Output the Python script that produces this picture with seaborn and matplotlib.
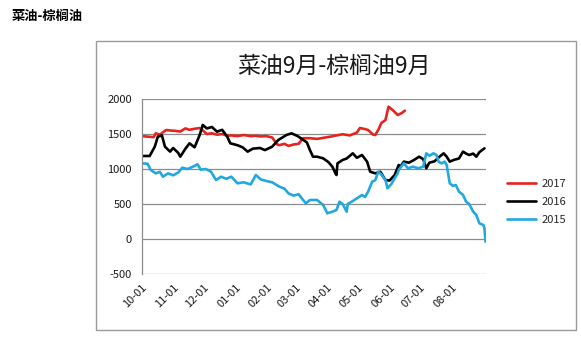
import matplotlib
matplotlib.use("Agg")
import matplotlib.pyplot as plt
import matplotlib.dates as mdates
from matplotlib.patches import Rectangle
from matplotlib.lines import Line2D
import pandas as pd
import seaborn as sns

sns.set_style("white")
plt.rcParams['font.family'] = ['Noto Sans CJK SC', 'DejaVu Sans']
plt.rcParams['axes.unicode_minus'] = False

# ---- data (seasonal axis Oct -> Sep) ----
dates_2017 = ["2016-10-01", "2016-10-09", "2016-10-13", "2016-10-15", "2016-10-19", "2016-10-25",
              "2016-10-29", "2016-11-03", "2016-11-08", "2016-11-13", "2016-11-17", "2016-11-22",
              "2016-11-27", "2016-12-01", "2016-12-04", "2016-12-09", "2016-12-14", "2016-12-19",
              "2016-12-24", "2016-12-28", "2017-01-03", "2017-01-09", "2017-01-16", "2017-01-21",
              "2017-01-26", "2017-01-31", "2017-02-06", "2017-02-11", "2017-02-13", "2017-02-18",
              "2017-02-22", "2017-02-27", "2017-03-04", "2017-03-08", "2017-03-15", "2017-03-22",
              "2017-03-28", "2017-04-04", "2017-04-10", "2017-04-16", "2017-04-23", "2017-04-30",
              "2017-05-03", "2017-05-08", "2017-05-11", "2017-05-16", "2017-05-18", "2017-05-21",
              "2017-05-24", "2017-05-28", "2017-05-31", "2017-06-04", "2017-06-09", "2017-06-13",
              "2017-06-16"]
vals_2017 = [1470, 1460, 1455, 1510, 1490, 1557, 1550, 1545, 1535, 1580, 1560, 1575,
             1585, 1540, 1500, 1510, 1490, 1500, 1475, 1480, 1470, 1485, 1470, 1475,
             1465, 1470, 1450, 1350, 1340, 1360, 1330, 1350, 1360, 1440, 1440, 1430,
             1445, 1462, 1480, 1496, 1480, 1520, 1586, 1570, 1557, 1490, 1486, 1560,
             1657, 1700, 1890, 1843, 1771, 1800, 1833]

dates_2016 = ["2016-10-01", "2016-10-09", "2016-10-14", "2016-10-17", "2016-10-21", "2016-10-24",
              "2016-10-29", "2016-11-01", "2016-11-06", "2016-11-08", "2016-11-13", "2016-11-17",
              "2016-11-22", "2016-11-27", "2016-11-30", "2016-12-04", "2016-12-09", "2016-12-14",
              "2016-12-19", "2016-12-24", "2016-12-27", "2017-01-03", "2017-01-08", "2017-01-13",
              "2017-01-18", "2017-01-25", "2017-01-30", "2017-02-06", "2017-02-12", "2017-02-20",
              "2017-02-25", "2017-03-03", "2017-03-08", "2017-03-12", "2017-03-15", "2017-03-18",
              "2017-03-22", "2017-03-28", "2017-04-02", "2017-04-06", "2017-04-09", "2017-04-10",
              "2017-04-11", "2017-04-16", "2017-04-20", "2017-04-26", "2017-04-30", "2017-05-05",
              "2017-05-10", "2017-05-13", "2017-05-18", "2017-05-23", "2017-05-28", "2017-06-01",
              "2017-06-06", "2017-06-10", "2017-06-12", "2017-06-15", "2017-06-20", "2017-06-25",
              "2017-06-30", "2017-07-04", "2017-07-07", "2017-07-10", "2017-07-15", "2017-07-20",
              "2017-07-24", "2017-07-27", "2017-07-30", "2017-08-03", "2017-08-08", "2017-08-12",
              "2017-08-15", "2017-08-18", "2017-08-22", "2017-08-25", "2017-08-28", "2017-09-02"]
vals_2016 = [1186, 1186, 1319, 1462, 1480, 1319, 1248, 1300, 1230, 1176, 1290, 1367,
             1310, 1486, 1629, 1580, 1600, 1533, 1560, 1462, 1367, 1340, 1310, 1248,
             1290, 1300, 1270, 1319, 1414, 1486, 1510, 1470, 1420, 1380, 1271, 1176,
             1176, 1152, 1100, 1033, 938, 914, 1080, 1129, 1150, 1224, 1160, 1200,
             1105, 962, 938, 960, 843, 835, 914, 1057, 1040, 1105, 1090, 1129,
             1176, 1140, 1010, 1090, 1110, 1176, 1224, 1176, 1105, 1130, 1150, 1248,
             1220, 1200, 1220, 1176, 1240, 1295]

dates_2015 = ["2016-10-01", "2016-10-07", "2016-10-10", "2016-10-15", "2016-10-19", "2016-10-22",
              "2016-10-27", "2016-11-01", "2016-11-06", "2016-11-10", "2016-11-15", "2016-11-20",
              "2016-11-25", "2016-11-28", "2016-12-03", "2016-12-08", "2016-12-13", "2016-12-18",
              "2016-12-23", "2016-12-28", "2017-01-03", "2017-01-09", "2017-01-16", "2017-01-21",
              "2017-01-26", "2017-01-31", "2017-02-06", "2017-02-13", "2017-02-18", "2017-02-22",
              "2017-02-27", "2017-03-04", "2017-03-07", "2017-03-11", "2017-03-15", "2017-03-22",
              "2017-03-28", "2017-04-01", "2017-04-06", "2017-04-10", "2017-04-13", "2017-04-16",
              "2017-04-20", "2017-04-21", "2017-04-25", "2017-04-30", "2017-05-05", "2017-05-08",
              "2017-05-11", "2017-05-15", "2017-05-18", "2017-05-21", "2017-05-24", "2017-05-28",
              "2017-05-30", "2017-06-03", "2017-06-06", "2017-06-09", "2017-06-10", "2017-06-15",
              "2017-06-19", "2017-06-24", "2017-06-29", "2017-07-04", "2017-07-07", "2017-07-10",
              "2017-07-14", "2017-07-17", "2017-07-19", "2017-07-22", "2017-07-25", "2017-07-27",
              "2017-07-30", "2017-08-02", "2017-08-05", "2017-08-08", "2017-08-12", "2017-08-15",
              "2017-08-18", "2017-08-22", "2017-08-25", "2017-08-28", "2017-09-01", "2017-09-02",
              "2017-09-03"]
vals_2015 = [1081, 1075, 986, 938, 960, 890, 938, 910, 950, 1019, 1000, 1030,
             1067, 990, 1000, 962, 843, 890, 860, 890, 795, 810, 780, 914,
             850, 830, 810, 748, 720, 652, 620, 640, 581, 510, 557, 557,
             486, 367, 390, 414, 533, 500, 390, 500, 533, 581, 629, 600,
             676, 819, 840, 962, 920, 843, 724, 790, 867, 938, 986, 1081,
             1010, 1033, 1010, 1033, 1224, 1190, 1224, 1200, 1105, 1080, 1105, 1057,
             795, 760, 770, 676, 629, 533, 500, 390, 343, 224, 200, 152,
             -38]

years = ["2017", "2016", "2015"]
colors = {"2017": "#E8231E", "2016": "#000000", "2015": "#22A8E0"}
month_ticks = ["2016-10-01", "2016-11-01", "2016-12-01", "2017-01-01", "2017-02-01", "2017-03-01",
               "2017-04-01", "2017-05-01", "2017-06-01", "2017-07-01", "2017-08-01"]
y_ticks = [-500, 0, 500, 1000, 1500, 2000]

frames = []
for yr, d, v in [("2017", dates_2017, vals_2017), ("2016", dates_2016, vals_2016),
                 ("2015", dates_2015, vals_2015)]:
    frames.append(pd.DataFrame({"date": pd.to_datetime(d), "value": v, "year": yr}))
df = pd.concat(frames, ignore_index=True)

fig = plt.figure(figsize=(5.81, 3.39), dpi=100)
fig.patch.set_facecolor("white")

# outer chart frame
fig.patches.append(Rectangle((96 / 581, 1 - 330 / 339), (576 - 96) / 581, (330 - 41) / 339,
                             transform=fig.transFigure, fill=False, edgecolor="#9a9a9a",
                             linewidth=1.0, zorder=0))

ax = fig.add_axes([141.5 / 581, 1 - 274 / 339, (486 - 141.5) / 581, (274 - 99) / 339])

sns.lineplot(data=df, x="date", y="value", hue="year", hue_order=years, palette=colors,
             linewidth=1.9, ax=ax, legend=False, estimator=None, sort=True)

ax.set_ylim(-500, 2000)
ax.set_yticks(y_ticks)
ax.set_xlim(pd.Timestamp("2016-10-01"), pd.Timestamp("2017-09-03 12:00"))
ax.set_xticks(pd.to_datetime(month_ticks))
ax.xaxis.set_major_formatter(mdates.DateFormatter("%m-%d"))
ax.grid(axis="y", color="#8c8c8c", linewidth=0.9)
ax.grid(axis="x", visible=False)
ax.set_axisbelow(True)
for s in ["top", "right", "bottom"]:
    ax.spines[s].set_visible(False)
ax.spines["left"].set_color("#8c8c8c")
ax.spines["left"].set_linewidth(0.9)
ax.tick_params(axis="both", length=0, labelsize=8, colors="#1a1a1a")
ax.tick_params(axis="y", pad=7)
ax.tick_params(axis="x", pad=6)
for lab in ax.get_xticklabels():
    lab.set_rotation(45)
    lab.set_ha("right")
    lab.set_rotation_mode("anchor")
ax.set_xlabel("")
ax.set_ylabel("")

# legend
handles = [Line2D([0], [0], color=colors[y], linewidth=1.9) for y in years]
fig.legend(handles, years, loc="center left", bbox_to_anchor=(497 / 581, 1 - 202 / 339),
           frameon=False, fontsize=8, handlelength=2.6, handletextpad=0.5, labelspacing=0.75)

# titles
fig.text(334 / 581, 1 - 66 / 339, "菜油9月-棕榈油9月", ha="center", va="center",
         fontsize=16.5, color="#1a1a1a")
fig.text(12 / 581, 1 - 16 / 339, "菜油-棕榈油", ha="left", va="center",
         fontsize=9.5, fontweight="bold", color="#000000")

fig.savefig("out.png", dpi=100, facecolor="white")
